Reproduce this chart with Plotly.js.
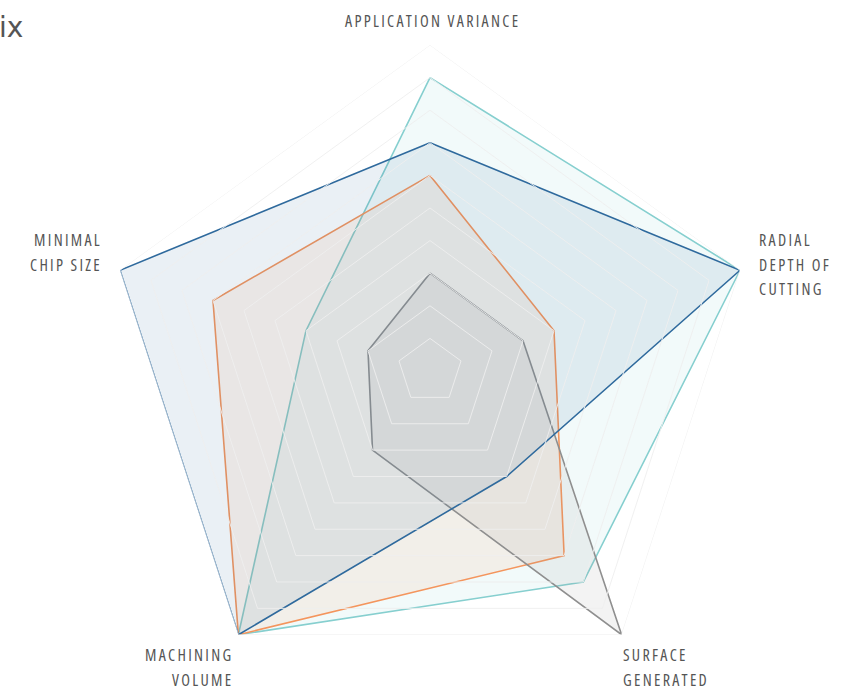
<!DOCTYPE html>
<html>
<head>
<meta charset="utf-8">
<script src="https://cdn.plot.ly/plotly-3.0.1.min.js"></script>
<style>
html,body{margin:0;padding:0;overflow:hidden;background:#fff;}
#chart{width:861px;height:742px;}
text.annotation-text{letter-spacing:2.3px;font-stretch:condensed;}
</style>
</head>
<body>
<div id="chart"></div>
<script>
// Axis categories (clockwise from top)
const categories = [
  'APPLICATION VARIANCE',
  'RADIAL<br>DEPTH OF<br>CUTTING',
  'SURFACE<br>GENERATED',
  'MACHINING<br>VOLUME',
  'MINIMAL<br>CHIP SIZE'
];

// Series values (0..1 scale)
const seriesNames = ['Tool A', 'Tool B', 'Tool C', 'Tool D'];
const tealValues   = [0.9, 1.0, 0.8, 1.0, 0.4];
const orangeValues = [0.6, 0.4, 0.7, 1.0, 0.7];
const greyValues   = [0.3, 0.3, 1.0, 0.3, 0.2];
const blueValues   = [0.7, 1.0, 0.4, 1.0, 1.0];

// Grid ring levels
const gridLevels = [0.1, 0.2, 0.3, 0.4, 0.5, 0.6, 0.7, 0.8, 0.9, 1.0];

const lineColors = ['#86cfcf', '#f4955d', '#8f8f8f', '#2f6a9d'];
const fillColors = ['rgba(134,207,207,0.11)', 'rgba(244,149,93,0.10)', 'rgba(143,143,143,0.11)', 'rgba(47,106,157,0.10)'];

const close = arr => arr.concat([arr[0]]);
const thetaClosed = close(categories);
const allValues = [tealValues, orangeValues, greyValues, blueValues];

const traces = allValues.map((vals, i) => ({
  type: 'scatterpolar',
  name: seriesNames[i],
  r: close(vals),
  theta: thetaClosed,
  mode: 'lines',
  fill: 'toself',
  fillcolor: fillColors[i],
  line: {color: lineColors[i], width: 1.6},
  hoverinfo: 'skip'
}));

// Grid rings drawn above the series
gridLevels.forEach(lv => {
  traces.push({
    type: 'scatterpolar',
    r: close(categories.map(() => lv)),
    theta: thetaClosed,
    mode: 'lines',
    line: {color: 'rgba(238,238,238,0.9)', width: 1},
    hoverinfo: 'skip',
    showlegend: false
  });
});

// Axis label placement (page pixels) around the pentagon
const M = {l: 104, r: 105, t: 45, b: 45};
const plotSize = 652;
const toPaperX = px => (px - M.l) / plotSize;
const toPaperY = py => (M.t + plotSize - py) / plotSize;
const labelPlacement = [
  {px: 432, py: 21,    xanchor: 'center'},
  {px: 757, py: 264.5, xanchor: 'left'},
  {px: 621, py: 667,   xanchor: 'left'},
  {px: 235, py: 667,   xanchor: 'right'},
  {px: 104, py: 252.5, xanchor: 'right'}
];
const annotations = categories.map((c, i) => {
  const p = labelPlacement[i];
  return {
    text: c.split('<br>').map(s => '<span style="font-size:16px">' + s + '</span>').join('<br>'),
    xref: 'paper', yref: 'paper',
    x: toPaperX(p.px), y: toPaperY(p.py),
    xanchor: p.xanchor, yanchor: 'middle',
    align: p.xanchor === 'center' ? 'center' : p.xanchor,
    showarrow: false,
    font: {family: 'Open Sans', size: 19, color: '#555555'}
  };
});

const layout = {
  width: 861,
  height: 742,
  margin: M,
  paper_bgcolor: '#ffffff',
  showlegend: false,
  title: {
    text: 'Tool Selection Matrix',
    xref: 'container', x: 0.027, xanchor: 'right',
    yref: 'container', y: 0.963, yanchor: 'middle',
    font: {family: 'DejaVu Sans', size: 28, color: '#555555'}
  },
  annotations: annotations,
  polar: {
    domain: {x: [0, 1], y: [0, 1]},
    bgcolor: '#ffffff',
    gridshape: 'linear',
    radialaxis: {visible: false, range: [0, 1]},
    angularaxis: {
      type: 'category',
      direction: 'clockwise',
      rotation: 90,
      showgrid: false,
      showline: false,
      showticklabels: false,
      ticks: ''
    }
  }
};

Plotly.newPlot('chart', traces, layout, {staticPlot: true, displayModeBar: false});
</script>
</body>
</html>
